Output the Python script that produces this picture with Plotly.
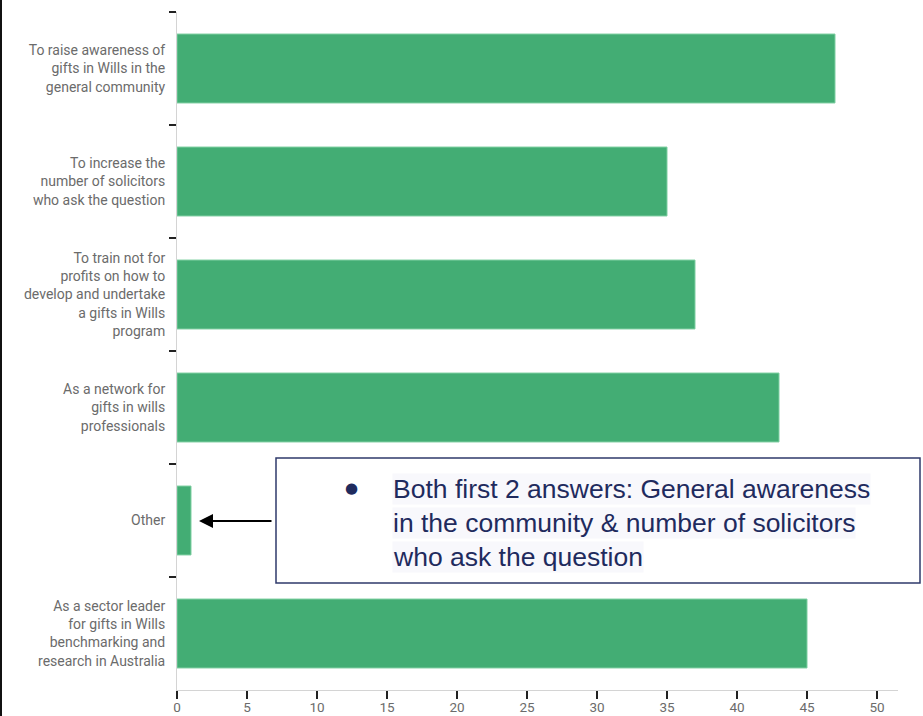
import plotly.graph_objects as go

# Survey responses: what the gifts-in-Wills body should focus on
categories = [
    "To raise awareness of<br>gifts in Wills in the<br>general community",
    "To increase the<br>number of solicitors<br>who ask the question",
    "To train not for<br>profits on how to<br>develop and undertake<br>a gifts in Wills<br>program",
    "As a network for<br>gifts in wills<br>professionals",
    "Other",
    "As a sector leader<br>for gifts in Wills<br>benchmarking and<br>research in Australia",
]
responses = [47, 35, 37, 43, 1, 45]
x_ticks = [0, 5, 10, 15, 20, 25, 30, 35, 40, 45, 50]

note_lines = [
    "Both first 2 answers: General awareness",
    "in the community & number of solicitors",
    "who ask the question",
]

W, H = 923, 716
ML, MR, MT, MB = 177, 25, 12, 26
PW, PH = W - ML - MR, H - MT - MB


def px(x):
    return (x - ML) / PW


def py(y):
    return (H - MB - y) / PH


label_font = dict(family="Roboto", size=14, color="#6b6b6b")
navy = "#1f2b5e"

fig = go.Figure(
    go.Bar(
        x=responses,
        y=categories,
        orientation="h",
        marker=dict(color="#43ad74", line=dict(color="#7fcfa2", width=1)),
        hoverinfo="skip",
    )
)

fig.update_layout(
    width=W,
    height=H,
    margin=dict(l=ML, r=MR, t=MT, b=MB, pad=0, autoexpand=False),
    plot_bgcolor="white",
    paper_bgcolor="white",
    bargap=0.39,
    showlegend=False,
    font=label_font,
)

fig.update_xaxes(
    range=[0, 51.5],
    tickvals=x_ticks,
    automargin=False,
    showgrid=False,
    zeroline=False,
    showline=True,
    linecolor="#d4d4d4",
    linewidth=1,
    ticks="outside",
    ticklen=8,
    tickwidth=1.5,
    tickcolor="#222222",
    tickfont=dict(family="Roboto", size=13.5, color="#6b6b6b"),
    ticklabelstandoff=-3,
)

fig.update_yaxes(
    categoryorder="array",
    categoryarray=categories,
    autorange="reversed",
    tickson="boundaries",
    automargin=False,
    showgrid=False,
    zeroline=False,
    showline=True,
    linecolor="#d4d4d4",
    linewidth=1,
    ticks="outside",
    ticklen=7,
    tickwidth=1.5,
    tickcolor="#222222",
    tickfont=label_font,
    ticklabelstandoff=8,
)

shapes = [
    # slide edge on the left
    dict(type="line", xref="paper", yref="paper",
         x0=px(1), x1=px(1), y0=py(0), y1=py(H),
         line=dict(color="#111111", width=2)),
    # callout box
    dict(type="rect", xref="paper", yref="paper",
         x0=px(276), x1=px(920), y0=py(583), y1=py(458),
         line=dict(color="#2f3a6b", width=1.5), fillcolor="white"),
]

annotations = [
    # arrow pointing at the "Other" bar
    dict(xref="paper", yref="paper", x=px(199), y=py(521),
         ax=74, ay=0, text="", showarrow=True,
         arrowhead=2, arrowsize=1.4, arrowwidth=2, arrowcolor="#000000"),
    dict(xref="paper", yref="paper", x=px(351), y=py(488),
         xanchor="center", yanchor="middle", text="●", showarrow=False,
         font=dict(family="DejaVu Sans", size=15, color=navy)),
]
for i, line in enumerate(note_lines):
    annotations.append(
        dict(xref="paper", yref="paper", x=px(392), y=py(489 + 34 * i),
             xanchor="left", yanchor="middle", text=line, showarrow=False,
             bgcolor="#f8f8fc", borderpad=0,
             font=dict(family="Liberation Sans, Arial", size=26.5, color=navy))
    )

fig.update_layout(shapes=shapes, annotations=annotations)

fig.write_html("out.html")
